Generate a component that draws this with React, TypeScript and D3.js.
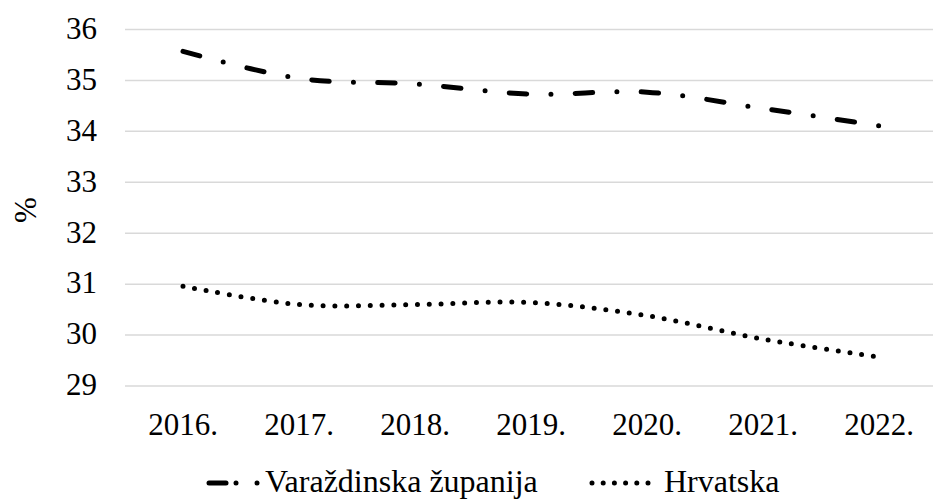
import React, { useEffect, useRef } from "react";
import * as d3 from "d3";

// Data
const years = ["2016.", "2017.", "2018.", "2019.", "2020.", "2021.", "2022."];
const varazdinska = [35.57, 35.04, 34.93, 34.73, 34.77, 34.45, 34.11];
const hrvatska = [30.96, 30.6, 30.6, 30.64, 30.38, 29.92, 29.57];
const yTicks = [29, 30, 31, 32, 33, 34, 35, 36];
const seriesNames = ["Varaždinska županija", "Hrvatska"];

const WIDTH = 933;
const HEIGHT = 499;
const FONT = "'Liberation Serif', 'Times New Roman', serif";
const FONT_SIZE = 31;
const GRID_COLOR = "#d9d9d9";

const App = () => {
  const ref = useRef<SVGSVGElement | null>(null);

  useEffect(() => {
    const svg = d3.select(ref.current);
    svg.selectAll("*").remove();

    const x = d3.scaleBand().domain(years).range([125, 937]);
    const y = d3.scaleLinear().domain([29, 36]).range([386, 29.5]);
    const cx = (d: string) => (x(d) as number) + x.bandwidth() / 2;

    // gridlines
    svg.append("g")
      .selectAll("line")
      .data(yTicks)
      .join("line")
      .attr("x1", x.range()[0])
      .attr("x2", WIDTH)
      .attr("y1", d => y(d))
      .attr("y2", d => y(d))
      .attr("stroke", GRID_COLOR)
      .attr("stroke-width", 1.5);

    // y tick labels
    svg.append("g")
      .selectAll("text")
      .data(yTicks)
      .join("text")
      .attr("x", 97)
      .attr("y", d => y(d))
      .attr("dy", "0.3em")
      .attr("text-anchor", "end")
      .text(d => d);

    // x tick labels
    svg.append("g")
      .selectAll("text")
      .data(years)
      .join("text")
      .attr("x", d => cx(d))
      .attr("y", 435)
      .attr("text-anchor", "middle")
      .text(d => d);

    // y axis title
    svg.append("text")
      .attr("transform", "translate(36,210) rotate(-90)")
      .attr("text-anchor", "middle")
      .text("%");

    const line = d3.line<number>()
      .x((_, i) => cx(years[i]))
      .y(d => y(d))
      .curve(d3.curveCardinal.tension(0));

    // Varaždinska - long dash dot
    svg.append("path")
      .datum(varazdinska)
      .attr("d", line)
      .attr("fill", "none")
      .attr("stroke", "#000")
      .attr("stroke-width", 5)
      .attr("stroke-linecap", "round")
      .attr("stroke-dasharray", "17.5 24.25 0 24.25");

    // Hrvatska - round dots
    svg.append("path")
      .datum(hrvatska)
      .attr("d", line)
      .attr("fill", "none")
      .attr("stroke", "#000")
      .attr("stroke-width", 5)
      .attr("stroke-linecap", "round")
      .attr("stroke-dasharray", "0 11.8");

    // Legend
    const lg = svg.append("g").style("font-size", "32px");
    const ly = 483;
    lg.append("line")
      .attr("x1", 209).attr("x2", 226)
      .attr("y1", ly).attr("y2", ly)
      .attr("stroke", "#000").attr("stroke-width", 5).attr("stroke-linecap", "round");
    lg.selectAll("circle.vz")
      .data([236, 257])
      .join("circle")
      .attr("class", "vz")
      .attr("cx", d => d).attr("cy", ly).attr("r", 2.5);
    lg.append("text").attr("x", 265).attr("y", 492).text(seriesNames[0]);

    lg.append("line")
      .attr("x1", 592).attr("x2", 650)
      .attr("y1", ly).attr("y2", ly)
      .attr("stroke", "#000").attr("stroke-width", 5).attr("stroke-linecap", "round")
      .attr("stroke-dasharray", "0 11.2");
    lg.append("text").attr("x", 664).attr("y", 492).text(seriesNames[1]);
  }, []);

  return (
    <svg
      ref={ref}
      width={WIDTH}
      height={HEIGHT}
      style={{ position: "absolute", left: 0, top: 0, background: "#fff", fontFamily: FONT, fontSize: FONT_SIZE }}
    />
  );
};

export default App;
